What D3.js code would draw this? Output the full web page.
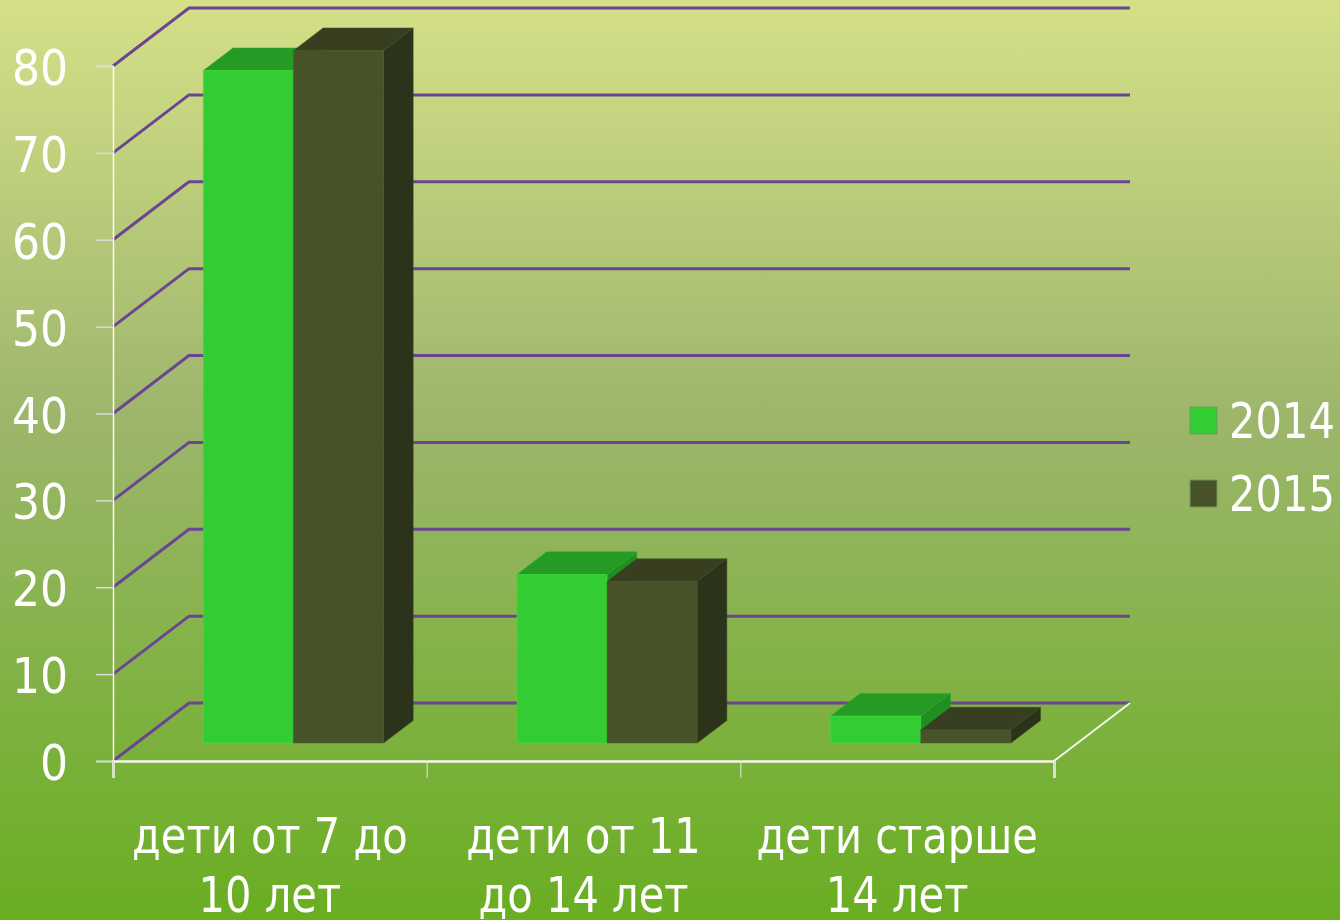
<!DOCTYPE html>
<html>
<head>
<meta charset="utf-8">
<script src="https://d3js.org/d3.v7.min.js"></script>
<style>
html, body { margin: 0; padding: 0; }
svg { display: block; }
text { font-family: "DejaVu Sans", sans-serif; font-stretch: condensed; fill: #fff; }
</style>
</head>
<body>
<div id="chart"></div>
<script>
var categories = ["дети от 7 до 10 лет", "дети от 11 до 14 лет", "дети старше 14 лет"]
var categoryLines = [["дети от 7 до", "10 лет"], ["дети от 11", "до 14 лет"], ["дети старше", "14 лет"]]
var seriesNames = ["2014", "2015"]
var values2014 = [77.4, 19.4, 3.1]
var values2015 = [79.7, 18.6, 1.5]
var yTicks = [0, 10, 20, 30, 40, 50, 60, 70, 80]

var width = 1340, height = 920
var plotLeft = 113, plotRight = 1054, plotBottom = 761, plotTop = 66
// depth of the 3d box, back wall is shifted by this much
var depthX = 76, depthY = -58
var barFront = 0.31, barBack = 0.70
// the original font is a bit narrower than condensed dejavu
var textScale = "scale(0.925,1)"

var frontColor = ["#33cc33", "#475229"]
var topColor = ["#259a25", "#383f20"]
var sideColor = ["#1f8f1f", "#2c331b"]

var svg = d3.select("#chart").append("svg")
    .attr("width", width)
    .attr("height", height)

// background
var grad = svg.append("defs").append("linearGradient")
    .attr("id", "bg").attr("x1", 0).attr("y1", 0).attr("x2", 0).attr("y2", 1)
grad.append("stop").attr("offset", "0%").attr("stop-color", "#d5e088")
grad.append("stop").attr("offset", "45%").attr("stop-color", "#9db66c")
grad.append("stop").attr("offset", "100%").attr("stop-color", "#69ae22")
svg.append("rect").attr("width", width).attr("height", height).attr("fill", "url(#bg)")

var y = d3.scaleLinear().domain([0, 80]).range([plotBottom, plotTop])
var x = d3.scaleBand().domain(categories).range([plotLeft, plotRight])
    .paddingInner(0.4255).paddingOuter(0.2128)
var xSeries = d3.scaleBand().domain(seriesNames).range([0, x.bandwidth()])
var xEdges = d3.scaleLinear().domain([0, 3]).range([plotLeft, plotRight])

// grid lines go up the side wall and along the back wall
var gridLine = d3.line()
svg.append("g").selectAll("path")
    .data(yTicks)
    .enter()
    .append("path")
    .attr("d", d => gridLine([[plotLeft, y(d)], [plotLeft + depthX, y(d) + depthY], [plotRight + depthX, y(d) + depthY]]))
    .attr("fill", "none")
    .attr("stroke", "#6a4592")
    .attr("stroke-width", 3)

// floor edge on the right
svg.append("path")
    .attr("d", gridLine([[plotRight, plotBottom], [plotRight + depthX, plotBottom + depthY]]))
    .attr("stroke", "#f4f6ea")
    .attr("stroke-width", 2)

// bars
var barData = []
categories.forEach(function (c, i) {
    barData.push({ cat: c, s: 0, v: values2014[i] })
    barData.push({ cat: c, s: 1, v: values2015[i] })
})

function corner(px, v, depth) {
    return [px + depthX * depth, y(v) + depthY * depth]
}

var bars = svg.append("g").selectAll("g")
    .data(barData)
    .enter()
    .append("g")
    .attr("stroke-width", 1)

function face(points, colors) {
    bars.append("polygon")
        .attr("points", d => {
            var x0 = x(d.cat) + xSeries(seriesNames[d.s])
            var x1 = x0 + xSeries.bandwidth()
            return points(x0, x1, d).map(p => p.join(",")).join(" ")
        })
        .attr("fill", d => colors[d.s])
        .attr("stroke", d => d3.color(colors[d.s]).brighter(0.4))
        .attr("stroke-opacity", 0.5)
}

face((x0, x1, d) => [corner(x1, 0, barFront), corner(x1, 0, barBack), corner(x1, d.v, barBack), corner(x1, d.v, barFront)], sideColor)
face((x0, x1, d) => [corner(x0, d.v, barFront), corner(x1, d.v, barFront), corner(x1, d.v, barBack), corner(x0, d.v, barBack)], topColor)
face((x0, x1, d) => [corner(x0, 0, barFront), corner(x1, 0, barFront), corner(x1, d.v, barFront), corner(x0, d.v, barFront)], frontColor)

// axes
var yAxis = svg.append("g")
    .attr("transform", "translate(" + plotLeft + ",0)")
    .call(d3.axisLeft(y).tickValues(yTicks).tickSize(17).tickFormat(""))
yAxis.select(".domain").attr("stroke", "#fbfcf5").attr("stroke-width", 1.5)
yAxis.selectAll(".tick line").attr("stroke", "#d9ddd0").attr("stroke-width", 1.5)

svg.append("g").selectAll("text")
    .data(yTicks)
    .enter()
    .append("text")
    .attr("transform", d => "translate(68," + (y(d) + 19) + ") scale(0.98,1)")
    .attr("text-anchor", "end")
    .style("font-size", "50px")
    .text(d => d)

var xAxis = svg.append("g")
    .attr("transform", "translate(0," + plotBottom + ")")
    .call(d3.axisBottom(xEdges).tickValues([0, 1, 2, 3]).tickSize(17).tickFormat(""))
xAxis.select(".domain").attr("stroke", "#f4f6ea").attr("stroke-width", 2.5)
xAxis.selectAll(".tick line").attr("stroke", "#d9ddd0").attr("stroke-width", 1.2)

// category labels, two lines each
var labels = svg.append("g").selectAll("g")
    .data(categories)
    .enter()
    .append("g")
    .attr("transform", d => "translate(" + (x(d) + x.bandwidth() / 2) + ",0)")
labels.selectAll("text")
    .data((d, i) => categoryLines[i])
    .enter()
    .append("text")
    .attr("transform", (d, i) => "translate(0," + (853 + i * 59) + ") " + textScale)
    .attr("text-anchor", "middle")
    .style("font-size", "50px")
    .text(d => d)

// legend
var legendY = d3.scalePoint().domain(seriesNames).range([420, 493])
var legend = svg.append("g").selectAll("g")
    .data(seriesNames)
    .enter()
    .append("g")
    .attr("transform", d => "translate(1190," + legendY(d) + ")")
legend.append("rect")
    .attr("y", -13)
    .attr("width", 27)
    .attr("height", 27)
    .attr("fill", (d, i) => frontColor[i])
    .attr("stroke", "#6f9a55")
legend.append("text")
    .attr("transform", "translate(39,18) " + textScale)
    .style("font-size", "50px")
    .text(d => d)
</script>
</body>
</html>
